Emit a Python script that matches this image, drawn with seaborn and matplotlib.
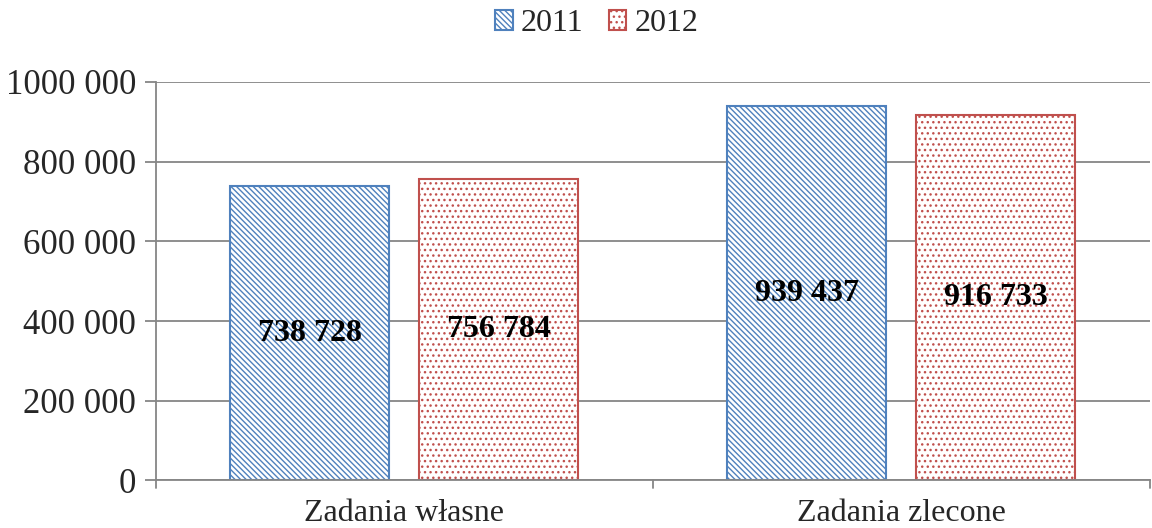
import matplotlib
matplotlib.use("Agg")
import matplotlib.pyplot as plt
import seaborn as sns
import pandas as pd
from matplotlib.patches import Patch

# dane
categories = ["Zadania własne", "Zadania zlecone"]
years = ["2011", "2012"]
values_2011 = [738728, 939437]
values_2012 = [756784, 916733]
y_ticks = [0, 200000, 400000, 600000, 800000, 1000000]
y_tick_labels = ["0", "200 000", "400 000", "600 000", "800 000", "1000 000"]

df = pd.DataFrame({
    "kategoria": categories * 2,
    "rok": [years[0]] * 2 + [years[1]] * 2,
    "wartosc": values_2011 + values_2012,
})

sns.set_style("white")
plt.rcParams["font.family"] = ["Liberation Serif", "DejaVu Serif"]
plt.rcParams["hatch.linewidth"] = 1.0

colors = {"2011": "#4F81BD", "2012": "#C0504D"}
hatches = {"2011": "\\" * 6, "2012": "..."}

fig, ax = plt.subplots(figsize=(11.52, 5.28), dpi=100)
sns.barplot(data=df, x="kategoria", y="wartosc", hue="rok", order=categories,
            hue_order=years, width=0.76, gap=0.16, ax=ax, legend=False)

for cont, yr in zip(ax.containers, years):
    for bar in cont:
        bar.set_facecolor("white")
        bar.set_edgecolor(colors[yr])
        bar.set_hatch(hatches[yr])
        bar.set_linewidth(1.5)
    labels = [f"{int(v):,}".replace(",", " ") for v in cont.datavalues]
    ax.bar_label(cont, labels=labels, label_type="center", fontsize=23,
                 fontweight="bold", color="black")

ax.set_ylim(0, 1000000)
ax.set_xlim(-0.5, 1.5)
ax.set_yticks(y_ticks)
ax.set_yticklabels(y_tick_labels, fontsize=25)
ax.tick_params(axis="x", labelsize=23, length=0, pad=13)
ax.tick_params(axis="y", length=8, color="#868686", width=1.3, left=True, pad=6)
ax.set_xlabel("")
ax.set_ylabel("")
ax.yaxis.grid(True, color="#868686", linewidth=1.3)
ax.set_axisbelow(True)
for s in ["top", "right"]:
    ax.spines[s].set_visible(False)
for s in ["left", "bottom"]:
    ax.spines[s].set_color("#868686")
    ax.spines[s].set_linewidth(1.3)

# znaczniki między kategoriami na osi X
for xt in [-0.5, 0.5, 1.5]:
    ax.plot([xt, xt], [0, -0.02], transform=ax.get_xaxis_transform(),
            color="#868686", linewidth=1.3, clip_on=False)

handles = [Patch(facecolor="white", edgecolor=colors[y], hatch=hatches[y],
                 linewidth=1.5, label=y) for y in years]
fig.legend(handles=handles, loc="center", bbox_to_anchor=(0.518, 0.955),
           ncol=2, frameon=False, fontsize=23, handlelength=0.55,
           handleheight=0.55, handletextpad=0.25, columnspacing=0.8)

plt.subplots_adjust(left=0.135, right=0.998, bottom=0.09, top=0.845)
plt.savefig("out.png", dpi=100)
